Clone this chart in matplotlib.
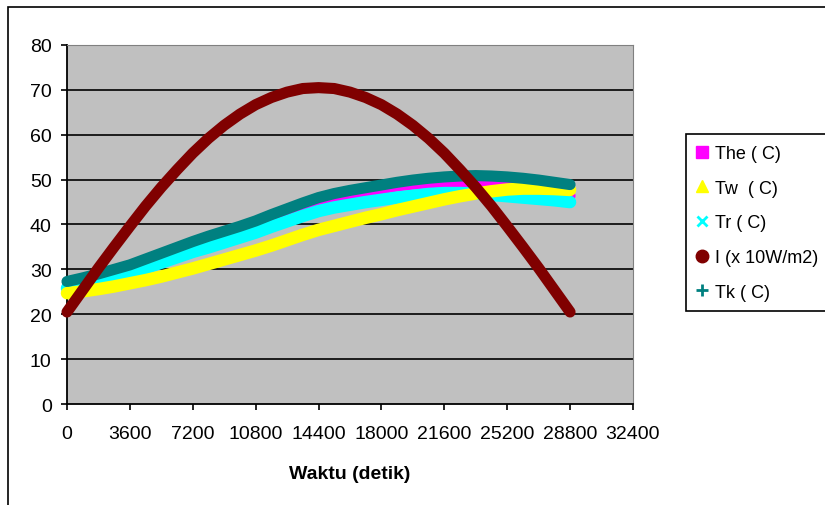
import matplotlib.pyplot as plt
from matplotlib.lines import Line2D
from matplotlib.patches import Rectangle

plt.rcParams['font.family'] = ['Liberation Sans', 'DejaVu Sans']

# time in seconds, every 15 minutes
waktu = [0, 900, 1800, 2700, 3600, 4500, 5400, 6300, 7200, 8100, 9000,
         9900, 10800, 11700, 12600, 13500, 14400, 15300, 16200, 17100,
         18000, 18900, 19800, 20700, 21600, 22500, 23400, 24300, 25200,
         26100, 27000, 27900, 28800]

the = [26.0, 27.0, 27.8, 28.8, 29.8, 31.1, 32.4, 33.7, 35.0, 36.2, 37.4,
       38.6, 39.8, 41.1, 42.4, 43.6, 44.8, 45.8, 46.6, 47.4, 48.0, 48.6,
       49.0, 49.3, 49.5, 49.6, 49.6, 49.5, 49.2, 48.7, 48.0, 47.3, 46.4]
tw = [24.7, 25.1, 25.6, 26.2, 26.9, 27.6, 28.4, 29.3, 30.2, 31.2, 32.2,
      33.2, 34.2, 35.3, 36.5, 37.7, 38.8, 39.7, 40.6, 41.5, 42.3, 43.2,
      44.0, 44.8, 45.6, 46.3, 46.9, 47.4, 47.8, 48.0, 48.0, 47.9, 47.7]
tr = [25.8, 26.5, 27.3, 28.2, 29.2, 30.3, 31.5, 32.7, 33.9, 34.9, 36.0,
      37.1, 38.2, 39.5, 40.7, 41.9, 43.0, 43.8, 44.4, 45.0, 45.5, 46.0,
      46.4, 46.8, 47.0, 47.0, 46.9, 46.6, 46.3, 46.0, 45.7, 45.4, 45.0]
rad = [20.5, 25.4, 30.3, 35.0, 39.6, 44.1, 48.3, 52.2, 55.9, 59.2, 62.1,
       64.6, 66.7, 68.3, 69.5, 70.3, 70.5, 70.3, 69.5, 68.3, 66.7, 64.6,
       62.1, 59.2, 55.9, 52.2, 48.3, 44.1, 39.6, 35.0, 30.3, 25.4, 20.5]
tk = [27.3, 28.1, 29.0, 30.0, 31.0, 32.3, 33.6, 34.9, 36.2, 37.4, 38.5,
      39.6, 40.8, 42.2, 43.5, 44.8, 46.0, 46.9, 47.6, 48.2, 48.8, 49.4,
      49.9, 50.3, 50.6, 50.8, 50.9, 50.8, 50.6, 50.3, 49.9, 49.4, 48.9]

fig = plt.figure(figsize=(8.25, 5.06), dpi=100)
ax = fig.add_axes([0.0812, 0.1996, 0.686, 0.7095])
ax.set_facecolor('#C0C0C0')

# outer chart border
fig.patches.append(Rectangle((8 / 825, -0.2), 1.2, 1 - 8 / 506 + 0.2,
                             transform=fig.transFigure, fill=False,
                             edgecolor='black', linewidth=1.2))

series = [
    (the, '#FF00FF', 8, 2),
    (tr, '#00FFFF', 9, 3),
    (tw, '#FFFF00', 9, 4),
    (tk, '#008080', 8, 5),
    (rad, '#800000', 8, 6),
]
for vals, col, lw, z in series:
    ax.plot(waktu, vals, color=col, linewidth=lw, solid_capstyle='round',
            solid_joinstyle='round', zorder=z, clip_on=False)

ax.set_xlim(0, 32400)
ax.set_ylim(0, 80)
ax.set_xticks(range(0, 32401, 3600))
ax.set_yticks(range(0, 81, 10))
for y in range(10, 80, 10):
    ax.axhline(y, color='black', linewidth=1.2, zorder=1)

for side in ['top', 'right']:
    ax.spines[side].set_color('#808080')
for side in ['left', 'bottom']:
    ax.spines[side].set_linewidth(1.3)
ax.tick_params(axis='both', labelsize=14, length=4, width=1.2, direction='out')
ax.tick_params(axis='x', pad=11)
ax.tick_params(axis='y', pad=7)
ax.set_xlabel('Waktu (detik)', fontsize=14, fontweight='bold', labelpad=17)

handles = [
    Line2D([], [], linestyle='none', marker='s', color='#FF00FF', markersize=8, label='The ( C)'),
    Line2D([], [], linestyle='none', marker='^', color='#FFFF00', markersize=9, label='Tw  ( C)'),
    Line2D([], [], linestyle='none', marker='x', color='#00FFFF', markersize=7, markeredgewidth=2, label='Tr ( C)'),
    Line2D([], [], linestyle='none', marker='o', color='#800000', markersize=9, label='I (x 10W/m2)'),
    Line2D([], [], linestyle='none', marker='+', color='#008080', markersize=8, markeredgewidth=2, label='Tk ( C)'),
]
leg = fig.legend(handles=handles, loc='upper left',
                 bbox_to_anchor=(686 / 825, 1 - 135 / 506),
                 bbox_transform=fig.transFigure, fontsize=13,
                 frameon=True, fancybox=False, framealpha=1,
                 edgecolor='black', handlelength=0.6, handletextpad=0.4,
                 labelspacing=0.98, borderaxespad=0, borderpad=0.6)
leg.get_frame().set_linewidth(1.2)

fig.savefig('out.png', dpi=100)
